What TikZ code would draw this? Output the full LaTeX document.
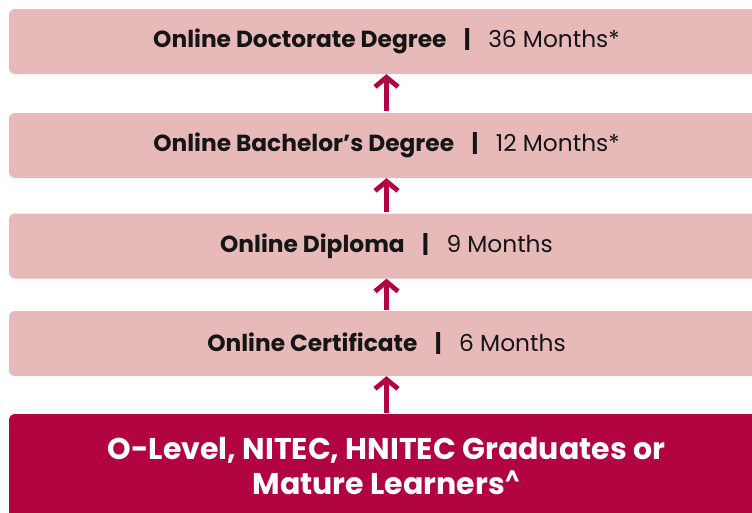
\documentclass[tikz,border=0pt]{standalone}
\usepackage{fontspec}
\setmainfont{Poppins}
\usepackage{xcolor}
\usepackage{tikz}
\usetikzlibrary{arrows.meta}

\definecolor{palerose}{HTML}{E8B9B9}
\definecolor{crimson}{HTML}{B10441}
\definecolor{inkdark}{HTML}{151515}

\newcommand{\barsep}{\hspace{0.75em}\textbf{|}\hspace{0.75em}}

\begin{document}
\begin{tikzpicture}[x=1pt, y=-1pt,
    level/.style={fill=palerose, rounded corners=6pt, minimum width=755pt,
        minimum height=65pt, inner sep=0pt, text=inkdark,
        font=\fontsize{23.3}{27}\selectfont},
    entry/.style={fill=crimson, rounded corners=6pt, minimum width=755pt,
        minimum height=104pt, inner sep=0pt, text=white, align=center,
        font=\fontsize{30}{35}\selectfont\bfseries},
    upto/.style={draw=crimson, line width=4.8pt,
        -{Straight Barb[length=9.5pt, width=23pt, line width=4.8pt]}}]
        \useasboundingbox (0,0) rectangle (752,512);
        \clip (0,0) rectangle (752,512);

        \node[level] (doctor) at (386.5, 41.5) {\textbf{Online Doctorate Degree}\barsep 36 Months*};
        \node[level] (bachelor) at (386.5, 145.5) {\textbf{Online Bachelor’s Degree}\barsep 12 Months*};
        \node[level] (diploma) at (386.5, 246) {\textbf{Online Diploma}\barsep 9 Months};
        \node[level] (cert) at (386.5, 343.5) {\textbf{Online Certificate}\barsep 6 Months};
        \node[entry] (entry) at (386.5, 466) {O-Level, NITEC, HNITEC Graduates or\\Mature Learners\textsuperscript{\^{}}};

        % arrows go up, tip touching the box above
        \draw[upto] ([yshift=1pt]entry.north) -- (cert.south);
        \draw[upto] ([yshift=1pt]cert.north) -- (diploma.south);
        \draw[upto] ([yshift=1pt]diploma.north) -- (bachelor.south);
        \draw[upto] ([yshift=2pt]bachelor.north) -- (doctor.south);
\end{tikzpicture}
\end{document}
